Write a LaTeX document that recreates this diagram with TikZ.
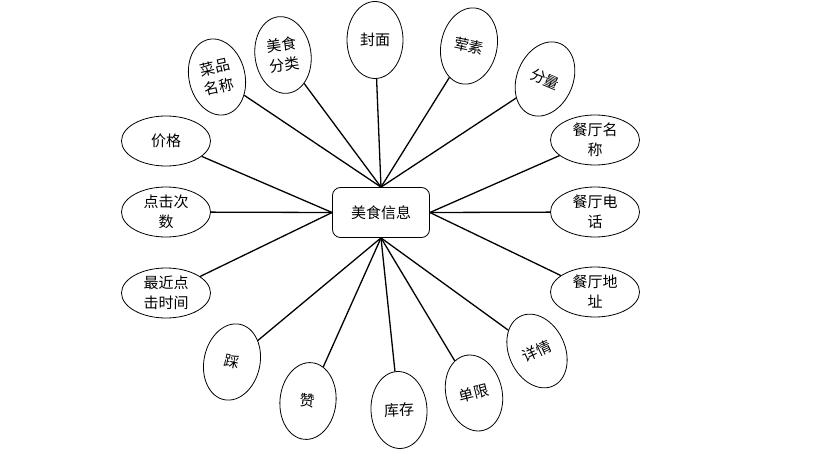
\documentclass[tikz,border=0pt]{standalone}
\usepackage{fontspec}
\setmainfont{Noto Sans CJK SC}
\usetikzlibrary{shapes.geometric}

\begin{document}
\begin{tikzpicture}[x=1pt, y=-1pt,
  entity/.style={draw, line width=0.8pt, rounded corners=8pt, fill=white, minimum width=97pt, minimum height=50pt, font=\fontsize{15}{20}\selectfont},
  attr/.style={draw, ellipse, line width=0.8pt, inner sep=-2pt, minimum width=56pt, minimum height=77pt, align=center, font=\fontsize{15}{20}\selectfont},
  wide/.style={attr, minimum width=89pt, minimum height=50pt},
  link/.style={line width=1.3pt}
]
\useasboundingbox (0,0) rectangle (820,460);
\node[entity] (hub) at (381,212.5) {美食信息};
% upper attributes
\node[attr, rotate=13] (cpmc) at (217,77) {菜品\\名称};
\node[attr, rotate=8] (msfl) at (283,55) {美食\\分类};
\node[attr] (fm) at (375,40) {封面};
\node[attr, rotate=-12] (hs) at (469,46) {荤素};
\node[attr, rotate=-23] (fl) at (545,79) {分量};
% right attributes
\node[wide] (ctmc) at (595,140) {餐厅名\\称};
\node[wide] (ctdh) at (595,212) {餐厅电\\话};
\node[wide] (ctdz) at (595,292) {餐厅地\\址};
% left attributes
\node[wide] (jg) at (166,141) {价格};
\node[wide] (djcs) at (166,212) {点击次\\数};
\node[wide] (zjdj) at (166,293) {最近点\\击时间};
% lower attributes
\node[attr, rotate=-12] (cai) at (232,362) {踩};
\node[attr, rotate=-6] (zan) at (308,401) {赞};
\node[attr, rotate=3] (kc) at (399,410) {库存};
\node[attr, rotate=14] (dx) at (474,393) {单限};
\node[attr, rotate=25] (xq) at (537,351) {详情};

\draw[link] (cpmc) -- (hub.north);
\draw[link] (msfl) -- (hub.north);
\draw[link] (fm) -- (hub.north);
\draw[link] (hs) -- (hub.north);
\draw[link] (fl) -- (hub.north);
\draw[link] (ctmc) -- (hub.east);
\draw[link] (ctdh) -- (hub.east);
\draw[link] (ctdz) -- (hub.east);
\draw[link] (jg) -- (hub.west);
\draw[link] (djcs) -- (hub.west);
\draw[link] (zjdj) -- (hub.west);
\draw[link] (cai) -- (hub.south);
\draw[link] (zan) -- (hub.south);
\draw[link] (kc) -- (hub.south);
\draw[link] (dx) -- (hub.south);
\draw[link] (xq) -- (hub.south);
\end{tikzpicture}
\end{document}
